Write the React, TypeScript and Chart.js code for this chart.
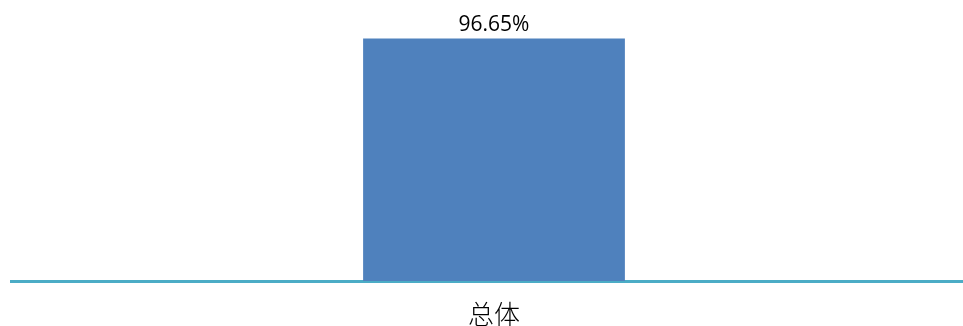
import React, { useEffect, useRef } from "react";
import { Chart, registerables } from "chart.js";

Chart.register(...registerables);

const categories = ["总体"];
const values = [96.65];
const valueLabels = ["96.65%"];

const barColor = "#4f81bd";
const axisColor = "#4bacc6";

const labelPlugin = {
  id: "valueLabels",
  afterDatasetsDraw(chart: any) {
    const ctx = chart.ctx;
    const meta = chart.getDatasetMeta(0);
    ctx.save();
    ctx.font = '21px "Open Sans", "Liberation Sans", sans-serif';
    ctx.fillStyle = "#000000";
    ctx.textAlign = "center";
    ctx.textBaseline = "alphabetic";
    meta.data.forEach((el: any, i: number) => {
      ctx.fillText(valueLabels[i], el.x, el.y - 7);
    });
    ctx.restore();
  },
};

export default function App() {
  const ref = useRef<HTMLCanvasElement | null>(null);
  useEffect(() => {
    if (!ref.current) return;
    const chart = new Chart(ref.current, {
      type: "bar",
      data: {
        labels: categories,
        datasets: [
          {
            data: values,
            backgroundColor: barColor,
            borderWidth: 0,
            barPercentage: 0.271,
            categoryPercentage: 1,
          },
        ],
      },
      options: {
        animation: false,
        responsive: true,
        maintainAspectRatio: false,
        layout: { padding: { left: 11, right: 0, top: 30, bottom: 0 } },
        plugins: { legend: { display: false }, tooltip: { enabled: false } },
        scales: {
          x: {
            grid: { display: false },
            border: { display: true, color: axisColor, width: 3 },
            afterFit: (scale: any) => {
              scale.height = 45;
            },
            ticks: {
              color: "#000000",
              padding: 10,
              font: { family: '"Noto Sans CJK SC", sans-serif', size: 26, weight: "300" },
            },
          },
          y: {
            display: false,
            min: 0,
            max: 100,
          },
        },
      },
      plugins: [labelPlugin],
    });
    return () => chart.destroy();
  }, []);
  return (
    <div style={{ position: "fixed", left: 0, top: 0, width: 963, height: 326, overflow: "hidden", background: "#fff" }}>
      <div style={{ position: "absolute", left: 0, top: 0, width: 977, height: 326 }}>
        <canvas ref={ref} />
      </div>
    </div>
  );
}
